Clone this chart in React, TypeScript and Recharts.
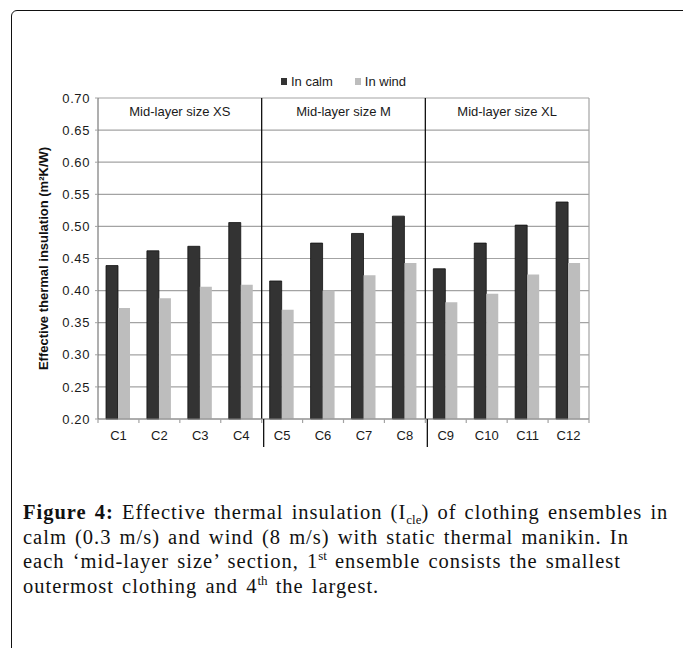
import React from 'react'
import {
  BarChart,
  Bar,
  XAxis,
  YAxis,
  CartesianGrid,
  ReferenceLine,
  ReferenceArea,
  Legend,
} from 'recharts'

const categories = ['C1', 'C2', 'C3', 'C4', 'C5', 'C6', 'C7', 'C8', 'C9', 'C10', 'C11', 'C12']
const calm = [0.439, 0.462, 0.469, 0.506, 0.415, 0.474, 0.489, 0.516, 0.434, 0.474, 0.502, 0.538]
const wind = [0.373, 0.388, 0.406, 0.409, 0.37, 0.4, 0.424, 0.443, 0.382, 0.395, 0.425, 0.443]
const yTicks = [0.2, 0.25, 0.3, 0.35, 0.4, 0.45, 0.5, 0.55, 0.6, 0.65, 0.7]
const sections = [
  { label: 'Mid-layer size XS', from: 'C1', to: 'C4' },
  { label: 'Mid-layer size M', from: 'C5', to: 'C8' },
  { label: 'Mid-layer size XL', from: 'C9', to: 'C12' },
]
const dividers = ['C4', 'C8']

const data = categories.map((c, i) => ({ name: c, calm: calm[i], wind: wind[i] }))

const SANS = '"Liberation Sans", Arial, sans-serif'
const SERIF = '"Liberation Serif", "Times New Roman", serif'
const GRID = '#a3a3a3'

// x tick: label plus small edge ticks, and the section divider running below the axis
function CatTick(props: any) {
  const { x, y, payload } = props
  const half = payload?.offset ?? 20.5
  const isDiv = dividers.includes(payload.value)
  return (
    <g>
      <line x1={x - half} x2={x - half} y1={y} y2={y + 4} stroke={GRID} strokeWidth={1.2} />
      {payload.value === 'C12' && (
        <line x1={x + half} x2={x + half} y1={y} y2={y + 4} stroke={GRID} strokeWidth={1.2} />
      )}
      {isDiv && <line x1={x + half + 2} x2={x + half + 2} y1={y} y2={y + 28} stroke="#111" strokeWidth={1.3} />}
      <text x={x} y={y + 21} textAnchor="middle" fontSize={13} fontFamily={SANS} fill="#1a1a1a">
        {payload.value}
      </text>
    </g>
  )
}

function LegendContent() {
  const items = [
    { name: 'In calm', color: '#333333' },
    { name: 'In wind', color: '#bdbdbd' },
  ]
  return (
    <div style={{ display: 'flex', justifyContent: 'center', gap: 22, fontFamily: SANS, fontSize: 13, color: '#1a1a1a', paddingLeft: 4 }}>
      {items.map((it) => (
        <div key={it.name} style={{ display: 'flex', alignItems: 'center', gap: 4 }}>
          <span style={{ width: 6, height: 7, background: it.color, display: 'inline-block' }} />
          <span>{it.name}</span>
        </div>
      ))}
    </div>
  )
}

const supStyle: React.CSSProperties = { fontSize: 13, lineHeight: 0, letterSpacing: 0 }

export default function App() {
  return (
    <div style={{ position: 'absolute', left: 0, top: 0, width: 683, height: 648, overflow: 'hidden', background: '#fff' }}>
      <div
        style={{
          position: 'absolute',
          left: 11,
          top: 10,
          width: 680,
          height: 700,
          border: '1.5px solid #111',
          borderRadius: 6,
          boxSizing: 'border-box',
        }}
      />
      <div style={{ position: 'absolute', left: 0, top: 0 }}>
        <BarChart
          width={683}
          height={470}
          data={data}
          margin={{ top: 98, right: 94, left: 0, bottom: 21 }}
          barGap={0}
          barSize={12}
        >
          <CartesianGrid horizontal vertical={false} stroke={GRID} strokeWidth={1.2} />
          <Legend verticalAlign="middle" align="center" layout="horizontal" wrapperStyle={{ top: 74, left: 0, width: 683 }} content={<LegendContent />} />
          <XAxis
            dataKey="name"
            interval={0}
            tickSize={0}
            tickMargin={0}
            height={30}
            axisLine={{ stroke: '#8a8a8a', strokeWidth: 1.2 }}
            tick={<CatTick />}
          />
          <YAxis
            domain={[0.2, 0.7]}
            ticks={yTicks}
            width={98}
            tickSize={3}
            tickMargin={5}
            tickFormatter={(v: number) => v.toFixed(2)}
            tick={{ fontSize: 13, fill: '#1a1a1a', fontFamily: SANS, letterSpacing: 0.6 }}
            tickLine={{ stroke: GRID }}
            axisLine={{ stroke: '#7a7a7a', strokeWidth: 1.2 }}
            label={{
              value: 'Effective thermal insulation (m²K/W)',
              angle: -90,
              position: 'center',
              dx: -6,
              style: { fontSize: 13, fontWeight: 700, fontFamily: SANS, fill: '#111', textAnchor: 'middle' },
            }}
          />
          {sections.map((s) => (
            <ReferenceArea
              key={s.label}
              x1={s.from}
              x2={s.to}
              fill="none"
              stroke="none"
              label={{ value: s.label, position: 'insideTop', offset: 9, fontSize: 13, fontFamily: SANS, fill: '#1a1a1a' }}
            />
          ))}
          <Bar dataKey="calm" name="In calm" fill="#333333" stroke="#111" strokeWidth={0.8} isAnimationActive={false} />
          <Bar dataKey="wind" name="In wind" fill="#bdbdbd" isAnimationActive={false} />
          {dividers.map((d) => (
            <ReferenceLine key={d} x={d} position="end" stroke="#111" strokeWidth={1.3} />
          ))}
          <ReferenceLine x="C12" position="end" stroke={GRID} strokeWidth={1.2} />
        </BarChart>
      </div>
      <div
        style={{
          position: 'absolute',
          left: 23,
          top: 500,
          fontFamily: SERIF,
          fontSize: 20.5,
          lineHeight: '24.7px',
          letterSpacing: 1.0,
          wordSpacing: 2,
          color: '#111',
          whiteSpace: 'nowrap',
        }}
      >
        <div style={{ height: 24.7 }}>
          <b>Figure 4:</b> Effective thermal insulation (I<sub style={supStyle}>cle</sub>) of clothing ensembles in
        </div>
        <div style={{ height: 24.7 }}>calm (0.3 m/s) and wind (8 m/s) with static thermal manikin. In</div>
        <div style={{ height: 24.7 }}>
          each ‘mid-layer size’ section, 1<sup style={supStyle}>st</sup> ensemble consists the smallest
        </div>
        <div style={{ height: 24.7 }}>
          outermost clothing and 4<sup style={supStyle}>th</sup> the largest.
        </div>
      </div>
    </div>
  )
}
